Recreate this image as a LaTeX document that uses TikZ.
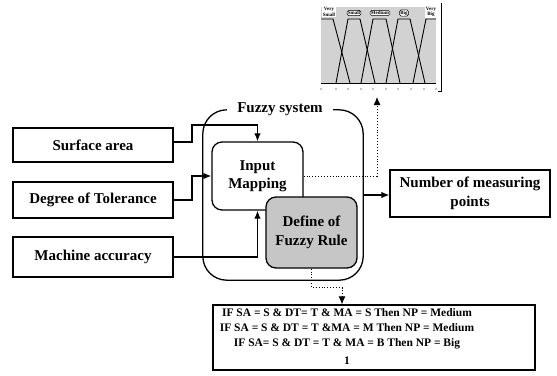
\documentclass[tikz,border=0pt]{standalone}
\usepackage{fontspec}
\setmainfont{Liberation Serif}
\usetikzlibrary{arrows.meta,calc}
\begin{document}
\begin{tikzpicture}[x=1pt,y=-1pt,
  box/.style={draw, line width=1.3pt, font=\fontsize{15}{18.5}\selectfont\bfseries, align=center, inner sep=0pt},
  conn/.style={line width=1.2pt, -{Latex[length=8pt,width=6.5pt]}},
  dconn/.style={line width=0.9pt, dotted, -{Latex[length=8pt,width=7pt]}},
  mf/.style={line width=0.9pt},
  mflab/.style={font=\fontsize{5}{5.5}\selectfont\bfseries, align=center, inner sep=0.8pt}
]
\useasboundingbox (0,0) rectangle (557,375);
\fill[white] (0,0) rectangle (557,375);

% ---- membership function chart ----
\fill[gray!35] (321,7) rectangle (436,83);
\draw[line width=0.6pt] (321,83) -- (436,83);
\draw[mf] (321,19) -- (333,19) -- (350,83);
\draw[mf] (336,83) -- (348,19) -- (360,19) -- (375,83);
\draw[mf] (361,83) -- (373,19) -- (386,19) -- (400,83);
\draw[mf] (386,83) -- (398,19) -- (410,19) -- (425,83);
\draw[mf] (413,83) -- (426,19) -- (436,19);
\draw[line width=1pt] (441,3) -- (441,91) -- (438,91);
\foreach \tx in {321,336,348,361,373,386,398,411,424,436}
  \fill (\tx,89) circle (0.6);
\node[mflab, fill=white] (lvs) at (329,12) {Very\\Small};
\node[mflab, fill=white, draw, line width=0.4pt, rounded corners=1.5pt] (ls) at (354,13) {Small};
\node[mflab, fill=white, draw, line width=0.4pt, rounded corners=1.5pt] (lm) at (380,13) {Medium};
\node[mflab, fill=white, draw, line width=0.4pt, rounded corners=1.5pt] (lb) at (404,13) {Big};
\node[mflab, fill=white] (lvb) at (431,12) {Very\\Big};
\coordinate (chartin) at (377,97);

% ---- inputs ----
\node[box, minimum width=160pt, minimum height=34pt] (sa) at (93,145) {Surface area};
\node[box, minimum width=160pt, minimum height=36pt] (dt) at (93,200) {Degree of Tolerance};
\node[box, minimum width=160pt, minimum height=40pt] (ma) at (93,257) {Machine accuracy};

% ---- fuzzy system ----
\node[minimum width=160pt, minimum height=170pt, inner sep=0pt] (fs) at (283,195) {};
\draw[line width=1.3pt, rounded corners=24pt]
  ([xshift=24pt]fs.north west) -- (fs.north west) -- (fs.south west)
  -- (fs.south east) -- (fs.north east) -- ([xshift=-30pt]fs.north east);
\node[font=\fontsize{15}{16}\selectfont\bfseries, inner sep=0pt] (fstitle) at (280,109) {Fuzzy system};

\node[box, rounded corners=10pt, minimum width=91pt, minimum height=68pt, fill=white] (im) at (257.5,176) {Input\\Mapping};
\node[box, rounded corners=10pt, minimum width=91pt, minimum height=71pt, fill=gray!45] (dfr) at (311.5,232.5) {Define of\\Fuzzy Rule};

% ---- output ----
\node[box, minimum width=160pt, minimum height=47pt] (nmp) at (470,193.5) {Number of measuring\\points};

% ---- rules ----
\node[draw, line width=1.3pt, minimum width=322pt, minimum height=65pt, inner sep=0pt] (rules) at (374,337.5) {};
\node[font=\fontsize{11.5}{15}\selectfont\bfseries, align=center, inner sep=0pt] (rtext) at (347,337)
  {IF SA = S \& DT= T \& MA = S Then NP = Medium\\
   IF SA = S \& DT = T \&MA = M Then NP = Medium\\
   IF SA= S \& DT = T \& MA = B Then NP = Big\\[3pt]
   1};

% ---- connectors ----
\draw[conn] ([yshift=3pt]sa.east) -| (192,125) -| (im.north);
\draw[conn] (dt.east) -| (192,176) -- (im.west);
\draw[conn] (ma.east) -| (im.south);
\draw[conn] (fs.east) -- (fs.east -| nmp.west);
\draw[dconn] (im.east) -| (chartin);
\draw[dconn] (dfr.south) -- ++(0,19) -| ([xshift=-32pt]rules.north);
\end{tikzpicture}
\end{document}
